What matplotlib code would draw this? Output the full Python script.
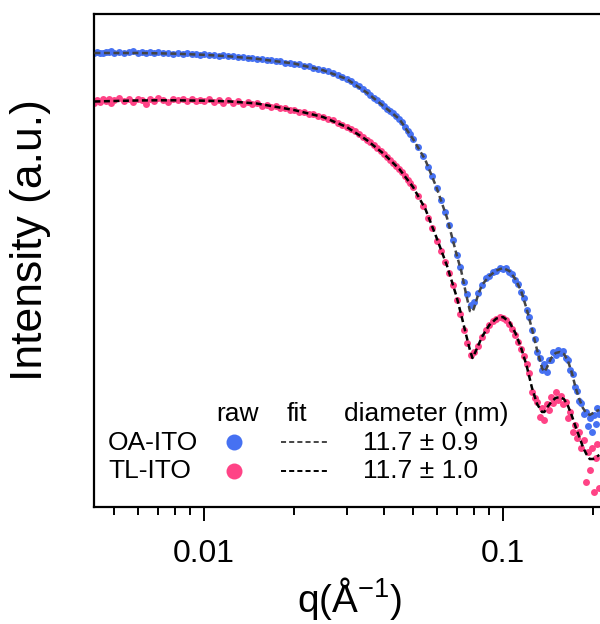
import matplotlib
matplotlib.use('Agg')
import matplotlib.pyplot as plt
from matplotlib.ticker import NullFormatter, LogLocator, NullLocator, FixedLocator, FixedFormatter
from matplotlib.lines import Line2D

# ---------------- data ----------------
q = [0.0043, 0.0044, 0.0045, 0.0046, 0.0047, 0.0048, 0.0049, 0.0050, 0.0052, 0.0054,
     0.0056, 0.0058, 0.0060, 0.0062, 0.0064, 0.0066, 0.0068, 0.0070, 0.0073, 0.0076,
     0.0079, 0.0082, 0.0085, 0.0088, 0.0091, 0.0094, 0.0097, 0.0100,
     0.0104, 0.0108, 0.0112, 0.0116, 0.0120, 0.0125, 0.0130, 0.0135, 0.0140, 0.0145,
     0.0150, 0.0156, 0.0162, 0.0168, 0.0174, 0.0180, 0.0187, 0.0194, 0.0200, 0.0208,
     0.0216, 0.0224, 0.0232, 0.0240, 0.0250, 0.0260, 0.0270, 0.0280, 0.0290, 0.0300,
     0.031, 0.032, 0.033, 0.034, 0.035, 0.036, 0.037, 0.038, 0.039, 0.040,
     0.041, 0.042, 0.043, 0.044, 0.045, 0.046, 0.047, 0.048, 0.049, 0.050,
     0.052, 0.054, 0.056, 0.058, 0.060, 0.062, 0.064, 0.066, 0.068, 0.070,
     0.072, 0.074, 0.076, 0.078, 0.080,
     0.0825, 0.085, 0.0875, 0.090, 0.0925, 0.095, 0.0975, 0.100, 0.1025, 0.105,
     0.1075, 0.110, 0.1125, 0.115, 0.1175, 0.120, 0.1225, 0.125, 0.1275, 0.130,
     0.1325, 0.135, 0.1375, 0.140, 0.1425, 0.145, 0.1475, 0.150,
     0.153, 0.156, 0.159, 0.162, 0.165, 0.168, 0.171, 0.174, 0.177, 0.180,
     0.183, 0.186, 0.189, 0.192, 0.195, 0.198, 0.201, 0.204, 0.207, 0.210]

raw_oa = [2965, 3034, 2979, 2951, 3020, 2992, 3055, 2979, 3034, 2958,
          3020, 3069, 2985, 3048, 2965, 2999, 2938, 2992, 2924, 2979,
          2917, 2951, 2884, 2938, 2871, 2911, 2831, 2871,
          2805, 2838, 2767, 2799, 2729, 2754, 2679, 2698, 2618, 2642,
          2576, 2570, 2500, 2506, 2438, 2432, 2366, 2355, 2301, 2270,
          2203, 2168, 2104, 2061, 1991, 1928, 1849, 1786, 1702, 1633,
          1549, 1462, 1380, 1288, 1189, 1122, 1047, 989, 923, 861,
          822, 776, 733, 692, 646, 596, 543, 490, 452, 407,
          339, 275, 214, 174, 132, 100, 75.9, 56.2, 39.8, 28.2,
          21.4, 15.1, 11.5, 8.91, 9.55,
          11.75, 14.13, 16.60, 17.18, 19.05, 19.50, 20.89, 20.65, 20.89, 19.05,
          18.20, 15.85, 14.45, 12.02, 10.47, 7.94, 6.76, 5.01, 4.07, 3.02,
          2.63, 2.00, 2.29, 1.91, 2.51, 2.51, 3.02, 2.82,
          3.16, 2.95, 3.09, 2.63, 2.51, 2.00, 1.82, 1.35, 1.23, 0.977,
          0.933, 0.724, 0.759, 0.550, 0.661, 0.479, 0.708, 0.575, 0.832, 0.724]

raw_tl = [923, 1000, 944, 1035, 966, 1012, 933, 989, 1047, 977,
          1023, 955, 1035, 989, 912, 1012, 966, 1047, 1000, 955,
          1023, 989, 1035, 977, 1012, 966, 1000, 977,
          1033, 951, 1000, 942, 1005, 938, 977, 920, 962, 904,
          933, 879, 899, 851, 871, 826, 836, 794, 802, 762,
          760, 724, 721, 689, 682, 643, 625, 589, 568, 535,
          513, 490, 457, 427, 398, 380, 355, 331, 309, 288,
          269, 251, 234, 219, 204, 191, 174, 158, 148, 135,
          110, 87.1, 66.1, 52.5, 38.9, 30.9, 24.0, 18.6, 14.1, 10.0,
          7.24, 5.01, 3.72, 2.82, 3.02,
          3.47, 4.27, 5.01, 5.62, 6.17, 6.53, 6.76, 6.68, 6.31, 5.75,
          5.13, 4.47, 3.80, 3.24, 2.75, 2.29, 1.86, 1.20, 1.05, 0.955,
          0.676, 0.832, 0.631, 0.912, 0.794, 1.07, 0.933, 1.20,
          1.00, 1.10, 0.912, 0.955, 0.661, 0.759, 0.479, 0.562, 0.417, 0.479,
          0.331, 0.398, 0.151, 0.302, 0.200, 0.331, 0.120, 0.263, 0.363, 0.132]

q_fit = [0.0043, 0.005, 0.006, 0.007, 0.008, 0.01, 0.012, 0.015, 0.02, 0.025,
         0.03, 0.035, 0.04, 0.045, 0.05, 0.055, 0.06, 0.065, 0.07, 0.0725,
         0.075, 0.0775, 0.079, 0.08, 0.0825, 0.085, 0.09, 0.095, 0.1, 0.105,
         0.11, 0.115, 0.12, 0.125, 0.13, 0.135, 0.1375, 0.14, 0.145, 0.15,
         0.155, 0.16, 0.165, 0.17, 0.175, 0.18, 0.185, 0.19, 0.195, 0.2,
         0.205, 0.21]

fit_oa = [2951, 2951, 2951, 2931, 2904, 2831, 2742, 2582, 2317, 1986,
          1622, 1189, 861, 646, 407, 251, 132, 66.1, 28.2, 19.5,
          12.0, 7.76, 7.59, 8.32, 11.2, 14.1, 17.4, 19.7, 20.9, 19.5,
          16.2, 12.3, 8.13, 5.13, 3.16, 2.09, 1.91, 2.09, 2.63, 2.95,
          3.02, 2.88, 2.45, 1.86, 1.32, 1.02, 0.832, 0.741, 0.708, 0.741,
          0.776, 0.794]

fit_tl = [966, 977, 989, 993, 993, 984, 971, 923, 794, 676,
          537, 398, 288, 204, 135, 81.3, 41.7, 21.9, 10.7, 7.08,
          4.68, 3.16, 2.63, 2.82, 3.47, 4.27, 5.62, 6.53, 6.76, 6.03,
          4.68, 3.31, 2.19, 1.32, 0.912, 0.759, 0.759, 0.832, 0.955, 1.05,
          1.07, 1.02, 0.871, 0.692, 0.537, 0.427, 0.339, 0.288, 0.257, 0.257,
          0.269, 0.282]

samples = ['OA-ITO', 'TL-ITO']
diameters = ['11.7 ± 0.9', '11.7 ± 1.0']
headers = ['raw', 'fit', 'diameter (nm)']
xtick_vals = [0.01, 0.1]
xtick_labels = ['0.01', '0.1']

# ---------------- style ----------------
plt.rcParams['font.family'] = ['Liberation Sans', 'DejaVu Sans']
plt.rcParams['mathtext.default'] = 'regular'

BLUE = '#4671f2'
PINK = '#ff4386'
FIT_OA = '#444444'
FIT_TL = '#000000'
DASH = (0, (2.4, 1.4))

W, H = 600, 624
fig = plt.figure(figsize=(W / 100, H / 100), dpi=100)
ax = fig.add_axes([94.4 / W, (H - 507) / H, 511 / W, 493 / H])

ax.plot(q, raw_oa, 'o', ms=5.0, color=BLUE, mec='none', zorder=2)
ax.plot(q, raw_tl, 'o', ms=5.0, color=PINK, mec='none', zorder=2)
ax.plot(q_fit, fit_oa, ls=DASH, lw=1.8, color=FIT_OA, zorder=3)
ax.plot(q_fit, fit_tl, ls=DASH, lw=1.8, color=FIT_TL, zorder=3)

ax.set_xscale('log')
ax.set_yscale('log')
ax.set_xlim(0.0043, 0.22)
ax.set_ylim(0.0851, 7244)

for s in ax.spines.values():
    s.set_linewidth(1.6)

ax.yaxis.set_major_locator(NullLocator())
ax.yaxis.set_minor_locator(NullLocator())
ax.xaxis.set_major_locator(FixedLocator(xtick_vals))
ax.xaxis.set_major_formatter(FixedFormatter(xtick_labels))
ax.xaxis.set_minor_locator(LogLocator(base=10, subs=(2, 3, 4, 5, 6, 7, 8, 9), numticks=20))
ax.xaxis.set_minor_formatter(NullFormatter())
ax.tick_params(axis='x', which='major', direction='out', length=10, width=1.4,
               labelsize=23, pad=13)
ax.tick_params(axis='x', which='minor', direction='out', length=6, width=1.4)

ax.set_xlabel(r'q(Å$^{-1}$)', fontsize=28, labelpad=4)
ax.set_ylabel('Intensity (a.u.)', fontsize=32)
ax.yaxis.set_label_coords((51 - 94.4) / 511, (507 - 240) / 493)

# ---------------- table-style legend ----------------
def fx(x):
    return x / W

def fy(y):
    return 1 - y / H

LEG_FS = 19
fig.text(fx(237), fy(421), headers[0], ha='center', va='baseline', fontsize=LEG_FS)
fig.text(fx(297), fy(421), headers[1], ha='center', va='baseline', fontsize=LEG_FS)
fig.text(fx(426), fy(421), headers[2], ha='center', va='baseline', fontsize=LEG_FS)

rows = [(450, 442, BLUE, FIT_OA), (478, 471, PINK, FIT_TL)]
for (base, mid, col, fcol), name, dia in zip(rows, samples, diameters):
    fig.text(fx(108), fy(base), name, ha='left', va='baseline', fontsize=LEG_FS)
    fig.add_artist(Line2D([fx(234)], [fy(mid)], transform=fig.transFigure,
                          marker='o', ms=11.5, color=col, mec='none', ls='none'))
    fig.add_artist(Line2D([fx(281), fx(328)], [fy(mid), fy(mid)], transform=fig.transFigure,
                          ls=(0, (2.6, 1.6)), lw=1.4, color=fcol))
    fig.text(fx(421), fy(base), dia, ha='center', va='baseline', fontsize=LEG_FS)

fig.savefig('out.png', dpi=100)
